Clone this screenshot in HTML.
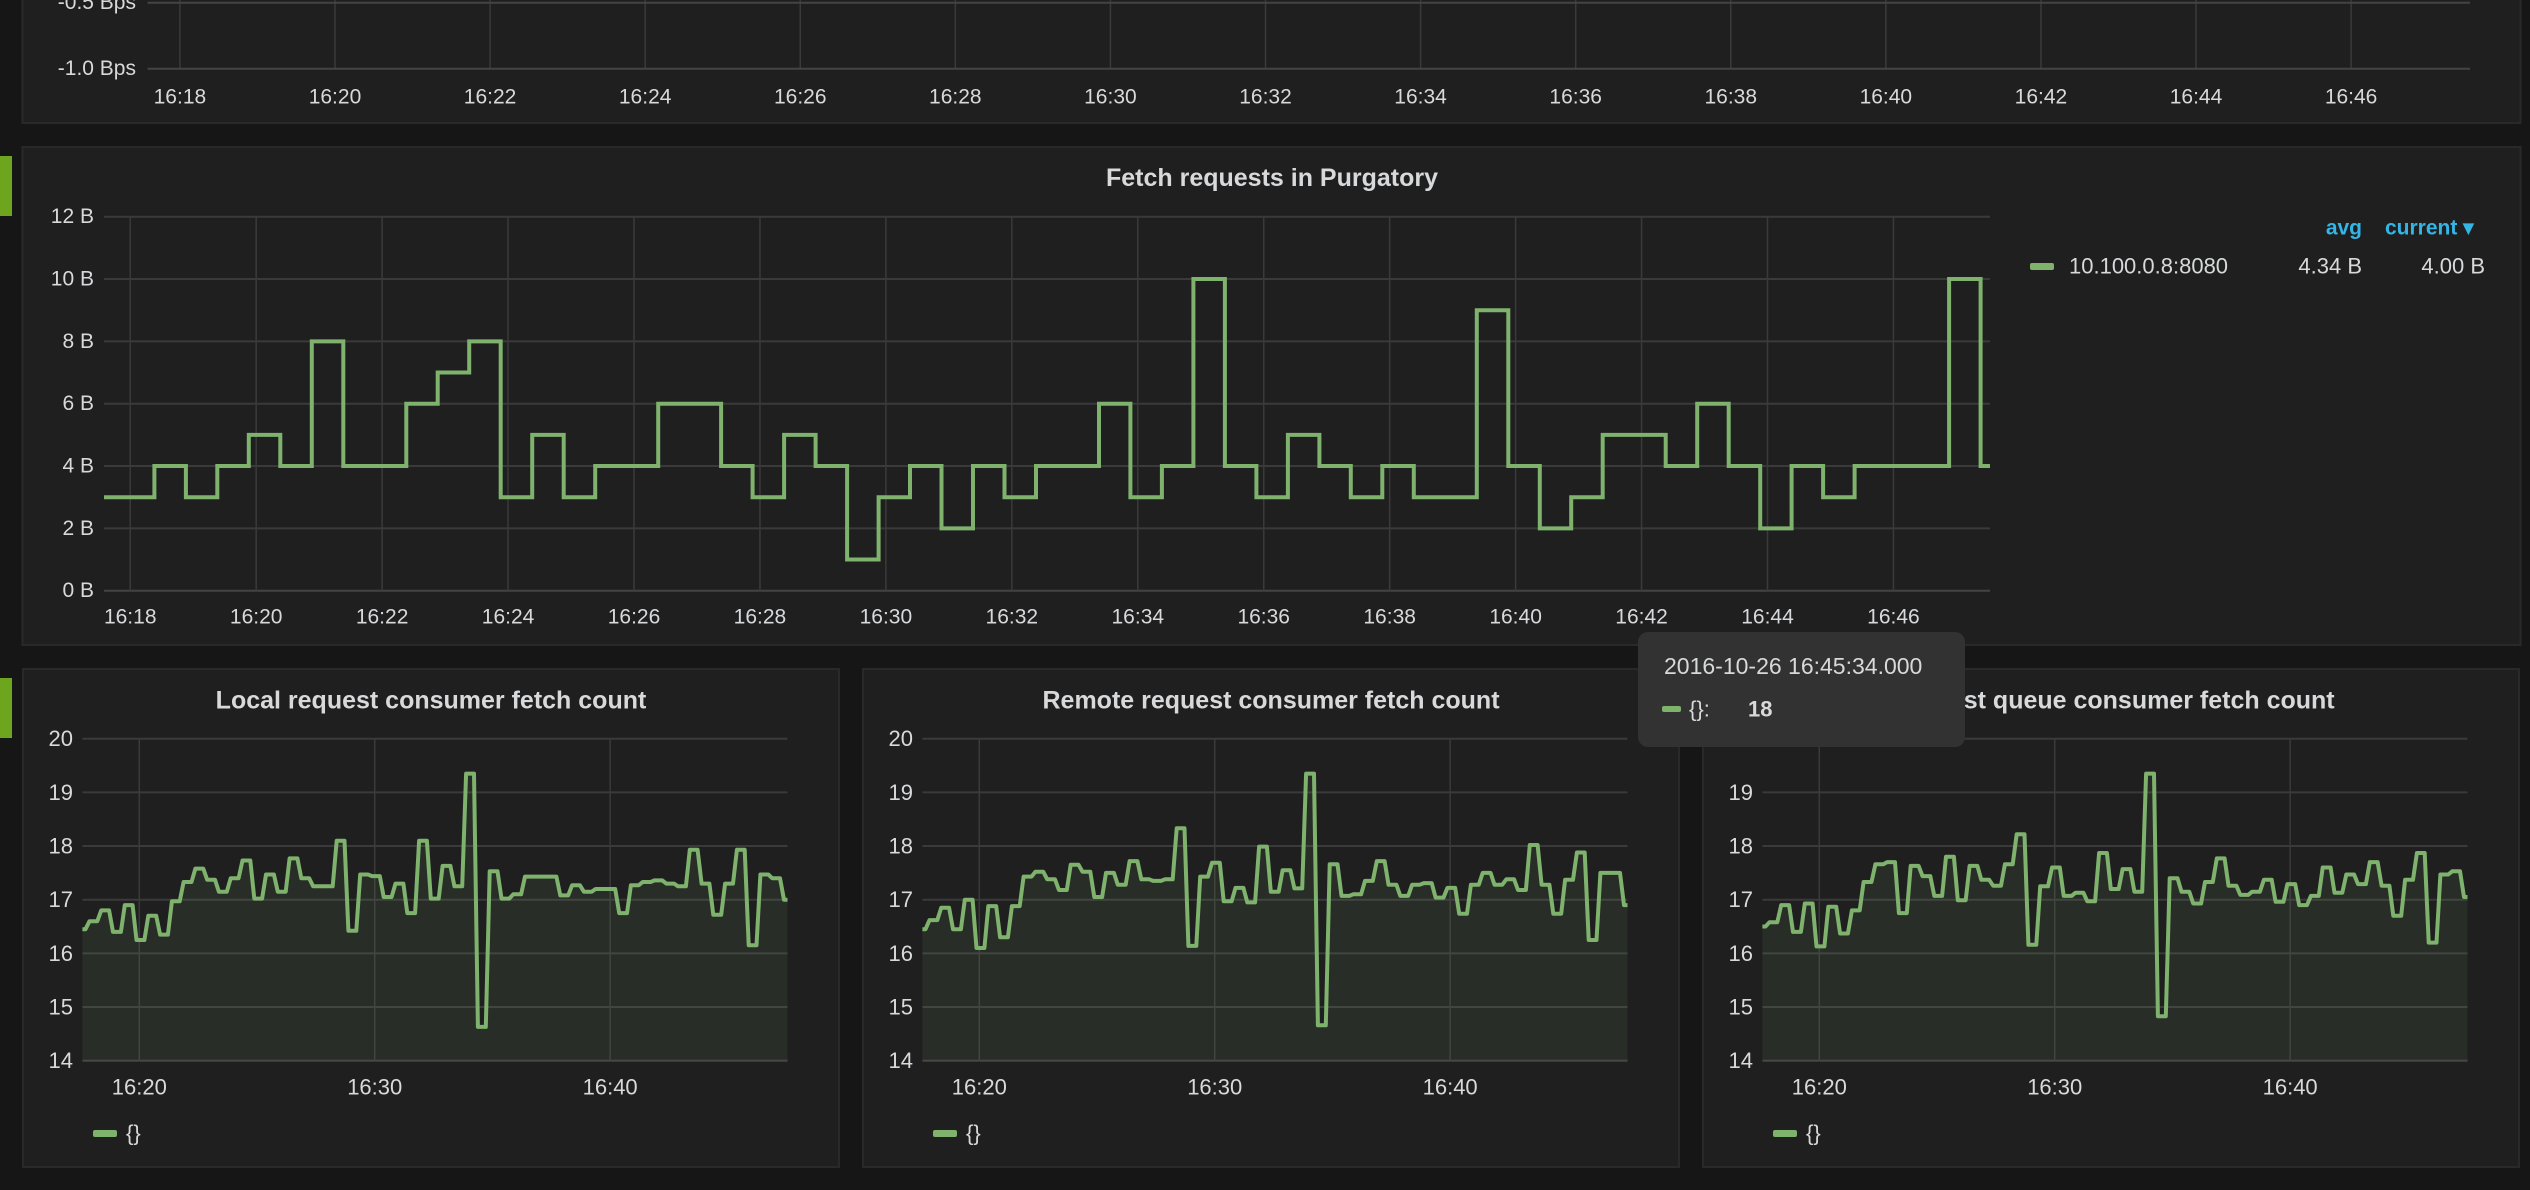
<!DOCTYPE html>
<html><head><meta charset="utf-8"><style>
html,body{margin:0;padding:0;background:#161616;}
svg{display:block;font-family:"Liberation Sans",sans-serif;}
</style></head><body>
<svg id="root" width="2530" height="1190" viewBox="0 0 2530 1190" xmlns="http://www.w3.org/2000/svg">
<rect x="0" y="0" width="2530" height="1190" fill="#161616"/>
<g id="topPanel"></g>
<g id="mainPanel"></g>
<g id="bottomPanels"></g>
<g id="tipLayer"></g>
</svg>
<script>
// time window, seconds since 16:00
const windowStart = 1055, windowEnd = 2852;
// main chart: 30s steps starting 16:17:23
const mainStart = 1043;
const mainStep = 30;
const mainValues = [3,3,4,3,4,5,4,8,4,4,6,7,8,3,5,3,4,4,6,6,4,3,5,4,1,3,4,2,4,3,4,4,6,3,4,10,4,3,5,4,3,4,3,3,9,4,2,3,5,5,4,6,4,2,4,3,4,4,4,10,4];
const mainYTicks = [0,2,4,6,8,10,12];
const mainXTicks = ["16:18","16:20","16:22","16:24","16:26","16:28","16:30","16:32","16:34","16:36","16:38","16:40","16:42","16:44","16:46"];
const legendName = "10.100.0.8:8080", legendAvg = "4.34 B", legendCurrent = "4.00 B";
// bottom panels: 30s samples starting 16:17:23
const localValues = [16.45,16.6,16.8,16.4,16.9,16.25,16.7,16.35,16.97,17.33,17.58,17.37,17.15,17.4,17.73,17.02,17.47,17.15,17.77,17.4,17.25,17.25,18.1,16.42,17.47,17.44,17.05,17.3,16.75,18.1,17.02,17.63,17.25,19.35,14.63,17.53,17.02,17.1,17.43,17.43,17.43,17.08,17.27,17.15,17.2,17.2,16.75,17.27,17.33,17.36,17.3,17.25,17.93,17.3,16.72,17.3,17.93,16.15,17.47,17.4,17.0];
const remoteValues = [16.45,16.62,16.85,16.45,17.0,16.1,16.88,16.3,16.88,17.43,17.52,17.38,17.18,17.65,17.52,17.05,17.5,17.28,17.72,17.38,17.35,17.38,18.33,16.14,17.43,17.69,16.97,17.22,16.95,17.99,17.15,17.55,17.21,19.35,14.66,17.66,17.07,17.1,17.35,17.72,17.28,17.07,17.28,17.31,17.04,17.22,16.74,17.28,17.5,17.28,17.38,17.18,18.02,17.28,16.74,17.37,17.88,16.25,17.5,17.5,16.9];
const queueValues = [16.5,16.58,16.9,16.4,16.93,16.13,16.87,16.37,16.8,17.33,17.66,17.7,16.75,17.63,17.44,17.07,17.8,16.99,17.63,17.37,17.26,17.66,18.22,16.16,17.25,17.6,17.07,17.13,16.97,17.87,17.2,17.57,17.15,19.35,14.83,17.4,17.15,16.93,17.33,17.77,17.26,17.09,17.15,17.37,16.96,17.29,16.9,17.07,17.6,17.13,17.47,17.29,17.7,17.26,16.7,17.37,17.87,16.2,17.47,17.53,17.05];
const bottomYTicks = [14,15,16,17,18,19,20];
const bottomXTicks = ["16:20","16:30","16:40"];
const bottomTitles = ["Local request consumer fetch count","Remote request consumer fetch count","Request queue consumer fetch count"];
const topYTicks = ["-1.0 Bps","-0.5 Bps"];
const topXTicks = mainXTicks;

const NS="http://www.w3.org/2000/svg";
function mk(tag,attrs,parent,text){const el=document.createElementNS(NS,tag);for(const k in attrs)el.setAttribute(k,attrs[k]);if(text!==undefined)el.textContent=text;parent.appendChild(el);return el;}
function tsec(s){const p=s.split(":");return (+p[0]-16)*3600+(+p[1])*60;}
const TXT="#d8d9da", GRID="#3a3a3a", LINE="#7eb26d";
let el;

// ---------- top panel ----------
const topG=document.getElementById('topPanel');
el=mk('rect',{x:22.5,y:-10,width:2498,height:133,fill:"#1f1f20",stroke:"#292929","stroke-width":2},topG);


const tX0=147.6,tX1=2470;
const tx=t=>tX0+(t-windowStart)/(windowEnd-windowStart)*(tX1-tX0);
const tyTick=i=>68.7-i*66;
topXTicks.forEach(l=>{const x=tx(tsec(l));
 const g=mk('line',{x1:x,x2:x,y1:0,y2:68.7,stroke:GRID,"stroke-width":1.5},topG);
 
 
 const t=mk('text',{x:x,y:97,"text-anchor":"middle","dominant-baseline":"central","font-size":21,fill:TXT},topG,l);
 
 });
topYTicks.forEach((l,i)=>{const y=tyTick(i);
 const g=mk('line',{x1:tX0,x2:tX1,y1:y,y2:y,stroke:"#444","stroke-width":2},topG);
 
 
 const t=mk('text',{x:136,y:y,"text-anchor":"end","dominant-baseline":"central","font-size":21,fill:TXT},topG,l);
 
 });

// ---------- main panel ----------
const mainG=document.getElementById('mainPanel');
el=mk('rect',{x:22.5,y:147,width:2498,height:498,fill:"#1f1f20",stroke:"#292929","stroke-width":2},mainG);


el=mk('rect',{x:0,y:156,width:12,height:60,fill:"#6ea51f"},mainG);


el=mk('text',{x:1272,y:178,"text-anchor":"middle","dominant-baseline":"central","font-size":25,"font-weight":"bold",fill:TXT},mainG,"Fetch requests in Purgatory");


const mX0=104,mX1=1990,mY0=590.7,mY1=216.7;
const mx=t=>mX0+(t-windowStart)/(windowEnd-windowStart)*(mX1-mX0);
const my=v=>mY0-(v-0)/(12-0)*(mY0-mY1);
mainYTicks.forEach(v=>{const y=my(v);
 const g=mk('line',{x1:mX0,x2:mX1,y1:y,y2:y,stroke:v===0?"#444":GRID,"stroke-width":2},mainG);
 
 
 const t=mk('text',{x:94,y:y,"text-anchor":"end","dominant-baseline":"central","font-size":21,fill:TXT},mainG,v+" B");
 
 });
mainXTicks.forEach(l=>{const x=mx(tsec(l));
 const g=mk('line',{x1:x,x2:x,y1:mY1,y2:mY0,stroke:GRID,"stroke-width":1.5},mainG);
 
 
 const t=mk('text',{x:x,y:617,"text-anchor":"middle","dominant-baseline":"central","font-size":21,fill:TXT},mainG,l);
 
 });
const mclip=mk('clipPath',{id:'mclip'},mainG);
mk('rect',{x:mX0,y:mY1-4,width:mX1-mX0,height:mY0-mY1+8},mclip);
let d="";
mainValues.forEach((v,i)=>{const x0=mx(mainStart+i*mainStep),x1=mx(mainStart+(i+1)*mainStep),y=my(v);
 d+=(i===0?"M":"L")+x0.toFixed(1)+","+y.toFixed(1)+"L"+x1.toFixed(1)+","+y.toFixed(1);});
el=mk('path',{d:d,fill:"none",stroke:LINE,"stroke-width":4,"clip-path":"url(#mclip)"},mainG);


// legend
el=mk('text',{x:2362,y:228,"text-anchor":"end","dominant-baseline":"central","font-size":21,"font-weight":"bold",fill:"#33b5e5"},mainG,"avg");


el=mk('text',{x:2385,y:228,"dominant-baseline":"central","font-size":21,"font-weight":"bold",fill:"#33b5e5"},mainG,"current ▾");


el=mk('rect',{x:2030,y:263,width:24,height:7,rx:2,fill:LINE},mainG);


el=mk('text',{x:2069,y:266,"dominant-baseline":"central","font-size":22,fill:TXT},mainG,legendName);


el=mk('text',{x:2362,y:266,"text-anchor":"end","dominant-baseline":"central","font-size":22,fill:TXT},mainG,legendAvg);


el=mk('text',{x:2485,y:266,"text-anchor":"end","dominant-baseline":"central","font-size":22,fill:TXT},mainG,legendCurrent);



// ---------- bottom panels ----------
const bottomG=document.getElementById('bottomPanels');
el=mk('rect',{x:0,y:678,width:12,height:60,fill:"#6ea51f"},bottomG);


const seriesList=[localValues,remoteValues,queueValues];
const lefts=[23,863,1703];
const bY0=1060.7,bY1=738.7;
const by=v=>bY0-(v-14)/(20-14)*(bY0-bY1);
seriesList.forEach((vals,p)=>{
 const L=lefts[p];
 const g=mk('g',{},bottomG);
 
 
 const r=mk('rect',{x:L,y:669,width:816,height:498,fill:"#1f1f20",stroke:"#292929","stroke-width":2},g);
 
 
 const t=mk('text',{x:L+408,y:700.5,"text-anchor":"middle","dominant-baseline":"central","font-size":25,"font-weight":"bold",fill:TXT},g,bottomTitles[p]);
 
 
 const X0=L+59.4,X1=L+764.5;
 const bx=tt=>X0+(tt-windowStart)/(windowEnd-windowStart)*(X1-X0);
 bottomYTicks.forEach(v=>{const y=by(v);
  const l=mk('line',{x1:X0,x2:X1,y1:y,y2:y,stroke:v===14?"#444":GRID,"stroke-width":2},g);
  
  
  const tx2=mk('text',{x:L+50,y:y,"text-anchor":"end","dominant-baseline":"central","font-size":22,fill:TXT},g,String(v));
  
  });
 bottomXTicks.forEach(lb=>{const x=bx(tsec(lb));
  const l=mk('line',{x1:x,x2:x,y1:bY1,y2:bY0,stroke:GRID,"stroke-width":1.5},g);
  
  
  const tx2=mk('text',{x:x,y:1087,"text-anchor":"middle","dominant-baseline":"central","font-size":22,fill:TXT},g,lb);
  
  });
 const cid='bclip'+p;
 const cp=mk('clipPath',{id:cid},g);
 mk('rect',{x:X0,y:bY1-4,width:X1-X0,height:bY0-bY1+4},cp);
 const pts=[];
 vals.forEach((v,i)=>{const s=mainStart+i*30;pts.push([bx(s),by(v)]);pts.push([bx(s+20),by(v)]);});
 const dl=pts.map((q,i)=>(i?"L":"M")+q[0].toFixed(1)+","+q[1].toFixed(1)).join("");
 const da=dl+"L"+pts[pts.length-1][0].toFixed(1)+","+bY0+"L"+pts[0][0].toFixed(1)+","+bY0+"Z";
 const a=mk('path',{d:da,fill:"rgba(126,178,109,0.1)","clip-path":"url(#"+cid+")"},g);
 
 
 const ln=mk('path',{d:dl,fill:"none",stroke:LINE,"stroke-width":4,"stroke-linejoin":"round","clip-path":"url(#"+cid+")"},g);
 
 
 const sw=mk('rect',{x:L+70,y:1130,width:24,height:7,rx:2,fill:LINE},g);
 
 
 const lt=mk('text',{x:L+103,y:1133,"dominant-baseline":"central","font-size":22,fill:TXT},g,"{}");
 
 
});

// ---------- tooltip ----------
const tipG=document.getElementById('tipLayer');
el=mk('rect',{x:1638,y:632,width:327,height:115,rx:10,fill:"#323233"},tipG);


el=mk('text',{x:1664,y:666,"dominant-baseline":"central","font-size":23,fill:TXT},tipG,"2016-10-26 16:45:34.000");


el=mk('rect',{x:1662,y:706,width:19,height:6,rx:2,fill:LINE},tipG);


el=mk('text',{x:1689,y:709,"dominant-baseline":"central","font-size":22,fill:TXT},tipG,"{}:");


el=mk('text',{x:1748,y:709,"dominant-baseline":"central","font-size":22,"font-weight":"bold",fill:TXT},tipG,"18");


</script>
</body></html>
